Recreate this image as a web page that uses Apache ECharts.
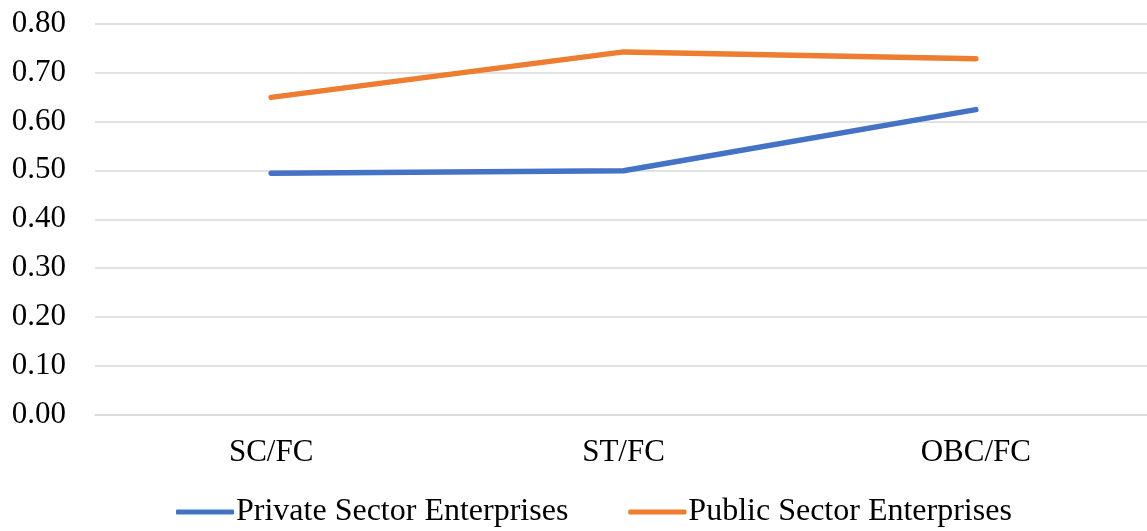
<!DOCTYPE html>
<html>
<head>
<meta charset="utf-8">
<script src="https://cdn.jsdelivr.net/npm/echarts@6/dist/echarts.min.js"></script>
<style>
  html, body { margin: 0; padding: 0; background: #fff; }
  #chart { width: 1147px; height: 531px; }
</style>
</head>
<body>
<div id="chart"></div>
<script>
// Ratio categories along the x axis
const categories = ['SC/FC', 'ST/FC', 'OBC/FC'];

// Ratios per sector
const privateSector = [0.494, 0.499, 0.624];
const publicSector = [0.649, 0.742, 0.728];

// Series names shown in the legend
const seriesNames = ['Private Sector Enterprises', 'Public Sector Enterprises'];

const font = '"Liberation Serif", "Times New Roman", serif';

const chart = echarts.init(document.getElementById('chart'));
chart.setOption({
  animation: false,
  color: ['#4472C4', '#ED7D31'],
  // plot area runs slightly past the right edge of the canvas
  grid: {
    left: 95, width: 1057, top: 23.5, bottom: 116,
    containLabel: false, outerBoundsMode: 'none'
  },
  legend: {
    data: seriesNames,
    left: 171,
    top: 491,
    itemWidth: 58,
    itemHeight: 5,
    itemGap: 60,
    icon: 'roundRect',
    textStyle: { fontFamily: font, fontSize: 32, color: '#000', padding: [0, 0, 0, -3] }
  },
  xAxis: {
    type: 'category',
    data: categories,
    boundaryGap: true,
    axisLine: { show: true, lineStyle: { color: '#d9d9d9', width: 1.5 } },
    axisTick: { show: false },
    axisLabel: { fontFamily: font, fontSize: 31, color: '#000', margin: 22 }
  },
  yAxis: {
    type: 'value',
    min: 0,
    max: 0.8,
    interval: 0.1,
    axisLine: { show: false },
    axisTick: { show: false },
    splitLine: { lineStyle: { color: '#d9d9d9', width: 1.5 } },
    axisLabel: {
      fontFamily: font, fontSize: 31, color: '#000', margin: 29,
      formatter: v => v.toFixed(2)
    }
  },
  series: [
    {
      name: seriesNames[0],
      type: 'line',
      data: privateSector,
      symbol: 'none',
      lineStyle: { width: 5.5, cap: 'round', join: 'round' }
    },
    {
      name: seriesNames[1],
      type: 'line',
      data: publicSector,
      symbol: 'none',
      lineStyle: { width: 5.5, cap: 'round', join: 'round' }
    }
  ]
});
</script>
</body>
</html>
